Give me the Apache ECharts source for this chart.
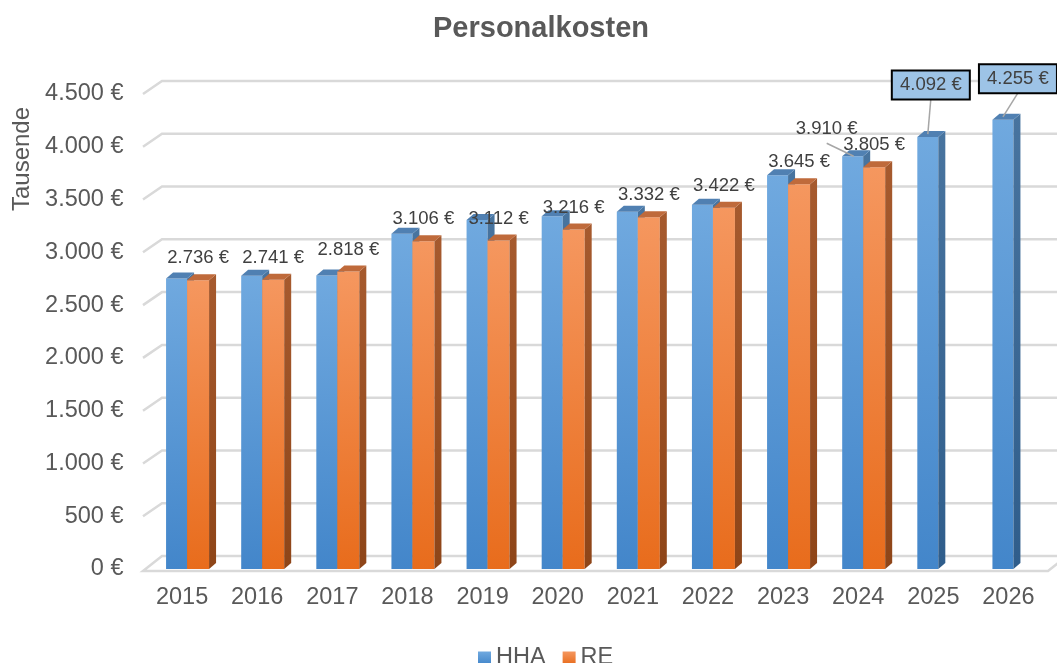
<!DOCTYPE html>
<html lang="de">
<head>
<meta charset="utf-8">
<title>Personalkosten</title>
<script src="https://cdn.jsdelivr.net/npm/echarts@6/dist/echarts.min.js"></script>
<style>
    html, body { margin: 0; padding: 0; background: #fff; }
    #chart { width: 1057px; height: 663px; }
</style>
</head>
<body>
<div id="chart"></div>
<script>
// --- Daten ---
const years = ['2015', '2016', '2017', '2018', '2019', '2020', '2021', '2022', '2023', '2024', '2025', '2026'];
const hhaValues = [2752, 2778, 2780, 3175, 3306, 3341, 3385, 3450, 3730, 3910, 4092, 4255];
const reValues = [2736, 2741, 2818, 3106, 3112, 3216, 3332, 3422, 3645, 3805, null, null];
const yTicks = [0, 500, 1000, 1500, 2000, 2500, 3000, 3500, 4000, 4500];

const FONT = '"Liberation Sans", Arial, sans-serif';
const AXIS_COLOR = '#595959';
const LABEL_COLOR = '#404040';
const GRID_COLOR = '#D9D9D9';
const AXIS_FONT_SIZE = 23.5;
const LABEL_FONT_SIZE = 18.5;

// 3D-Optik: Tiefe der Säulen und der Rückwand (dx, dy in px)
const barDepth = [7, -6];
const wallDepth = [19, -13];

// Beschriftungen der HHA-Säulen (Versatz zur Säulenoberkante)
const hhaCallouts = {
    9: { dx: -26, dy: -27, box: false },
    10: { dx: 3, dy: -52, box: true },
    11: { dx: 15, dy: -41, box: true }
};

function grad(c1, c2) {
    return new echarts.graphic.LinearGradient(0, 0, 0, 1, [
        { offset: 0, color: c1 },
        { offset: 1, color: c2 }
    ]);
}

function fmtEuro(v) {
    return String(v).replace(/\B(?=(\d{3})+(?!\d))/g, '.') + ' €';
}

const blueFaces = { front: grad('#70A9DF', '#4386CA'), side: grad('#48749F', '#2F5D8B'), top: '#5080B2' };
const orangeFaces = { front: grad('#F5975F', '#E86C1C'), side: grad('#A65A2E', '#8E4518'), top: '#BF6A3B' };

function textEl(x, y, text, size) {
    return {
        type: 'text',
        x: x,
        y: y,
        style: {
            text: text,
            fill: LABEL_COLOR,
            fontSize: size,
            fontFamily: FONT,
            align: 'center',
            verticalAlign: 'middle',
            textAlign: 'center',
            textVerticalAlign: 'middle'
        }
    };
}

function makeBarRenderer(faces, xOff, w, labelFn) {
    return function (params, api) {
        const idx = api.value(0);
        const v = api.value(1);
        const top = api.coord([idx, v]);
        const base = api.coord([idx, 0]);
        const x = top[0] + xOff;
        const yT = top[1];
        const yB = base[1];
        const dx = barDepth[0], dy = barDepth[1];
        const children = [
            { type: 'rect', shape: { x: x, y: yT, width: w, height: yB - yT }, style: { fill: faces.front } },
            { type: 'polygon', shape: { points: [[x + w, yT], [x + w + dx, yT + dy], [x + w + dx, yB + dy], [x + w, yB]] }, style: { fill: faces.side } },
            { type: 'polygon', shape: { points: [[x, yT], [x + dx, yT + dy], [x + w + dx, yT + dy], [x + w, yT]] }, style: { fill: faces.top } }
        ];
        if (labelFn) {
            labelFn(idx, v, x + w / 2, yT).forEach(function (c) { children.push(c); });
        }
        return { type: 'group', children: children };
    };
}

// RE: Wert direkt über der Säule
function reLabel(idx, v, cx, yT) {
    return [textEl(cx, yT - 22, fmtEuro(v), LABEL_FONT_SIZE)];
}

// HHA: nur ausgewählte Jahre, mit Führungslinie
function hhaLabel(idx, v, cx, yT) {
    const c = hhaCallouts[idx];
    if (!c) return [];
    const lx = cx + c.dx;
    const ly = yT + c.dy;
    const els = [];
    if (c.box) {
        els.push({ type: 'line', shape: { x1: lx, y1: ly + 14, x2: cx, y2: yT - 3 }, style: { stroke: '#A6A6A6', lineWidth: 1.5 } });
        els.push({ type: 'rect', shape: { x: lx - 39, y: ly - 14.5, width: 78, height: 29 }, style: { fill: '#9DC3E6', stroke: '#000', lineWidth: 2 } });
    } else {
        els.push({ type: 'line', shape: { x1: lx, y1: ly + 14, x2: cx + 1, y2: yT }, style: { stroke: '#A6A6A6', lineWidth: 1.5 } });
    }
    els.push(textEl(lx, ly, fmtEuro(v), LABEL_FONT_SIZE));
    return els;
}

// Rückwand-Gitterlinien und Boden
function renderGrid(params, api) {
    const v = api.value(1);
    const y = api.coord([0, v])[1];
    const cs = params.coordSys;
    const x0 = cs.x - 1.5;
    const xR = cs.x + cs.width + 2;
    const wx = wallDepth[0], wy = wallDepth[1];
    if (v === 0) {
        return {
            type: 'polygon',
            shape: { points: [[x0, y + 2], [xR, y + 2], [xR + wx, y + wy], [x0 + wx, y + wy]] },
            style: { fill: '#fff', stroke: GRID_COLOR, lineWidth: 2.5 }
        };
    }
    return {
        type: 'polyline',
        shape: { points: [[x0, y], [x0 + wx, y + wy], [xR + wx + 20, y + wy]] },
        style: { fill: null, stroke: GRID_COLOR, lineWidth: 2.5 }
    };
}

const chartDom = document.getElementById('chart');
const myChart = echarts.init(chartDom);

const hhaData = hhaValues.map(function (v, i) { return [i, v]; });
const reData = [];
reValues.forEach(function (v, i) { if (v != null) reData.push([i, v]); });

const option = {
    animation: false,
    title: {
        text: 'Personalkosten',
        left: 428,
        top: 9,
        textStyle: { fontSize: 29, fontWeight: 'bold', color: AXIS_COLOR, fontFamily: FONT }
    },
    legend: {
        data: ['HHA', 'RE'],
        left: 473,
        top: 641,
        icon: 'rect',
        itemWidth: 13,
        itemHeight: 13,
        itemGap: 17,
        textStyle: { fontSize: AXIS_FONT_SIZE, color: AXIS_COLOR, fontFamily: FONT }
    },
    grid: {
        left: 144.5,
        right: 11,
        top: 94,
        bottom: 94
    },
    xAxis: {
        type: 'category',
        data: years,
        axisLine: { show: false },
        axisTick: { show: false },
        axisLabel: { fontSize: AXIS_FONT_SIZE, color: AXIS_COLOR, fontFamily: FONT, margin: 17 }
    },
    yAxis: {
        type: 'value',
        min: 0,
        max: 4500,
        interval: 500,
        splitLine: { show: false },
        axisLine: { show: false },
        axisTick: { show: false },
        axisLabel: {
            fontSize: AXIS_FONT_SIZE,
            color: AXIS_COLOR,
            fontFamily: FONT,
            margin: 21,
            formatter: fmtEuro
        }
    },
    graphic: [{
        type: 'text',
        x: 22,
        y: 159,
        rotation: Math.PI / 2,
        style: {
            text: 'Tausende',
            fill: AXIS_COLOR,
            fontSize: 24,
            fontFamily: FONT,
            align: 'center',
            verticalAlign: 'middle',
            textAlign: 'center',
            textVerticalAlign: 'middle'
        }
    }],
    series: [
        {
            name: 'grid3d',
            type: 'custom',
            z: 1,
            silent: true,
            renderItem: renderGrid,
            data: yTicks.map(function (t) { return [0, t]; })
        },
        {
            name: 'HHA',
            type: 'custom',
            z: 2,
            itemStyle: { color: grad('#70A9DF', '#4386CA') },
            renderItem: makeBarRenderer(blueFaces, -16, 21, hhaLabel),
            data: hhaData
        },
        {
            name: 'RE',
            type: 'custom',
            z: 3,
            itemStyle: { color: grad('#F5975F', '#E86C1C') },
            renderItem: makeBarRenderer(orangeFaces, 5, 22, reLabel),
            data: reData
        }
    ]
};

myChart.setOption(option);

window.addEventListener('resize', function () {
    myChart.resize();
});
</script>
</body>
</html>
